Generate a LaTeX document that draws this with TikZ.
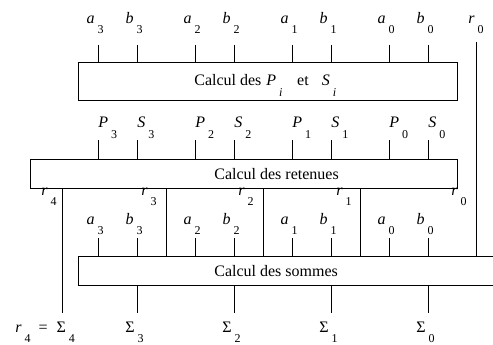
\documentclass[tikz,border=0pt]{standalone}
\usepackage{fontspec}
\setmainfont{Liberation Serif}
\usetikzlibrary{positioning, calc}

% indice decale (comme dans la figure)
\newcommand{\indice}[1]{\rlap{\hspace{3pt}\raisebox{-10pt}[0pt][0pt]{\fontsize{12}{14}\selectfont #1}}}
\newcommand{\nomvar}[2]{\textit{#1}\indice{#2}}

\begin{document}
\begin{tikzpicture}[x=1pt, y=-1pt, line width=0.7pt,
    font=\fontsize{16}{19}\selectfont,
    bloc/.style={draw, inner sep=0pt, anchor=north west},
    lab/.style={inner sep=0pt}]
    \useasboundingbox (0,0) rectangle (493,345);
    \coordinate (bord) at (493,0);

    % Calcul des P_i et S_i
    \node[bloc, minimum width=379.3pt, minimum height=38.3pt] (pis) at (78,61.7) {};
    \node[lab, anchor=base west] (tpis) at (194,86)
        {Calcul des\hspace{5pt}\nomvar{P}{\textit{i}}\hspace{21pt}et\hspace{13pt}\nomvar{S}{\textit{i}}};

    % Calcul des retenues
    \node[bloc, minimum width=427.3pt, minimum height=28.4pt] (ret) at (30,159.3) {};
    \node[lab, anchor=base west] (tret) at (214,179) {Calcul des retenues};

    % Calcul des sommes (ouvert a droite)
    \coordinate (som-no) at (78,256.3);
    \coordinate (som-so) at (78,285.7);
    \draw (som-no -| bord) -- (som-no) -- (som-so) -- (som-so -| bord);
    \node[lab, anchor=base west] (tsom) at (214,276) {Calcul des sommes};

    % Entrees a_i, b_i du premier bloc
    \foreach \x/\n/\k [count=\i] in {98/a/3,137/b/3,195/a/2,234/b/2,292/a/1,331/b/1,389/a/0,428/b/0} {
        \node[lab, anchor=base east] (e\i) at (\x-3,24) {\nomvar{\n}{\k}};
        \coordinate (te\i) at (\x,45);
        \draw (te\i) -- (te\i |- pis.north);
    }

    % P_i, S_i vers les retenues
    \foreach \x/\n/\k [count=\i] in {98/P/3,137/S/3,195/P/2,234/S/2,292/P/1,331/S/1,389/P/0,428/S/0} {
        \node[lab, anchor=base west] (ps\i) at (\x,128) {\nomvar{\n}{\k}};
        \coordinate (tp\i) at (\x,140);
        \draw (tp\i) -- (tp\i |- ret.north);
    }

    % Entrees a_i, b_i du bloc des sommes
    \foreach \x/\n/\k [count=\i] in {98/a/3,137/b/3,195/a/2,234/b/2,292/a/1,331/b/1,389/a/0,428/b/0} {
        \node[lab, anchor=base east] (es\i) at (\x-3,224) {\nomvar{\n}{\k}};
        \coordinate (ts\i) at (\x,238);
        \draw (ts\i) -- (ts\i |- som-no);
    }

    % Retenue r_0
    \node[lab, anchor=base east] (r0h) at (475,24) {\nomvar{r}{0}};
    \coordinate (c0) at (476.3,42);
    \draw (c0) -- (c0 |- som-no);

    % Retenues r_i
    \foreach \x/\k in {48/4,148/3,245/2,343/1,458/0} {
        \node[lab, anchor=base east] (r\k) at (\x,195) {\nomvar{r}{\k}};
    }
    \foreach \x [count=\i] in {166,263.3,360} {
        \coordinate (c\i) at (\x,0);
        \draw (c\i |- ret.south) -- (c\i |- som-no);
    }
    \coordinate (c4) at (62.3,313);
    \draw (c4 |- ret.south) -- (c4);

    % Sorties
    \foreach \x/\k in {137/3,234/2,331/1,428/0} {
        \coordinate (s\k) at (\x,313);
        \draw (s\k |- som-so) -- (s\k);
        \node[lab, anchor=base east] (sig\k) at (\x-2,332) {Σ\indice{\k}};
    }
    \node[lab, anchor=base west] (sig4) at (15,332)
        {\textit{r}\hspace{3pt}\raisebox{-10pt}{\fontsize{12}{14}\selectfont 4}\hspace{8pt}=\hspace{9pt}Σ\indice{4}};
\end{tikzpicture}
\end{document}
